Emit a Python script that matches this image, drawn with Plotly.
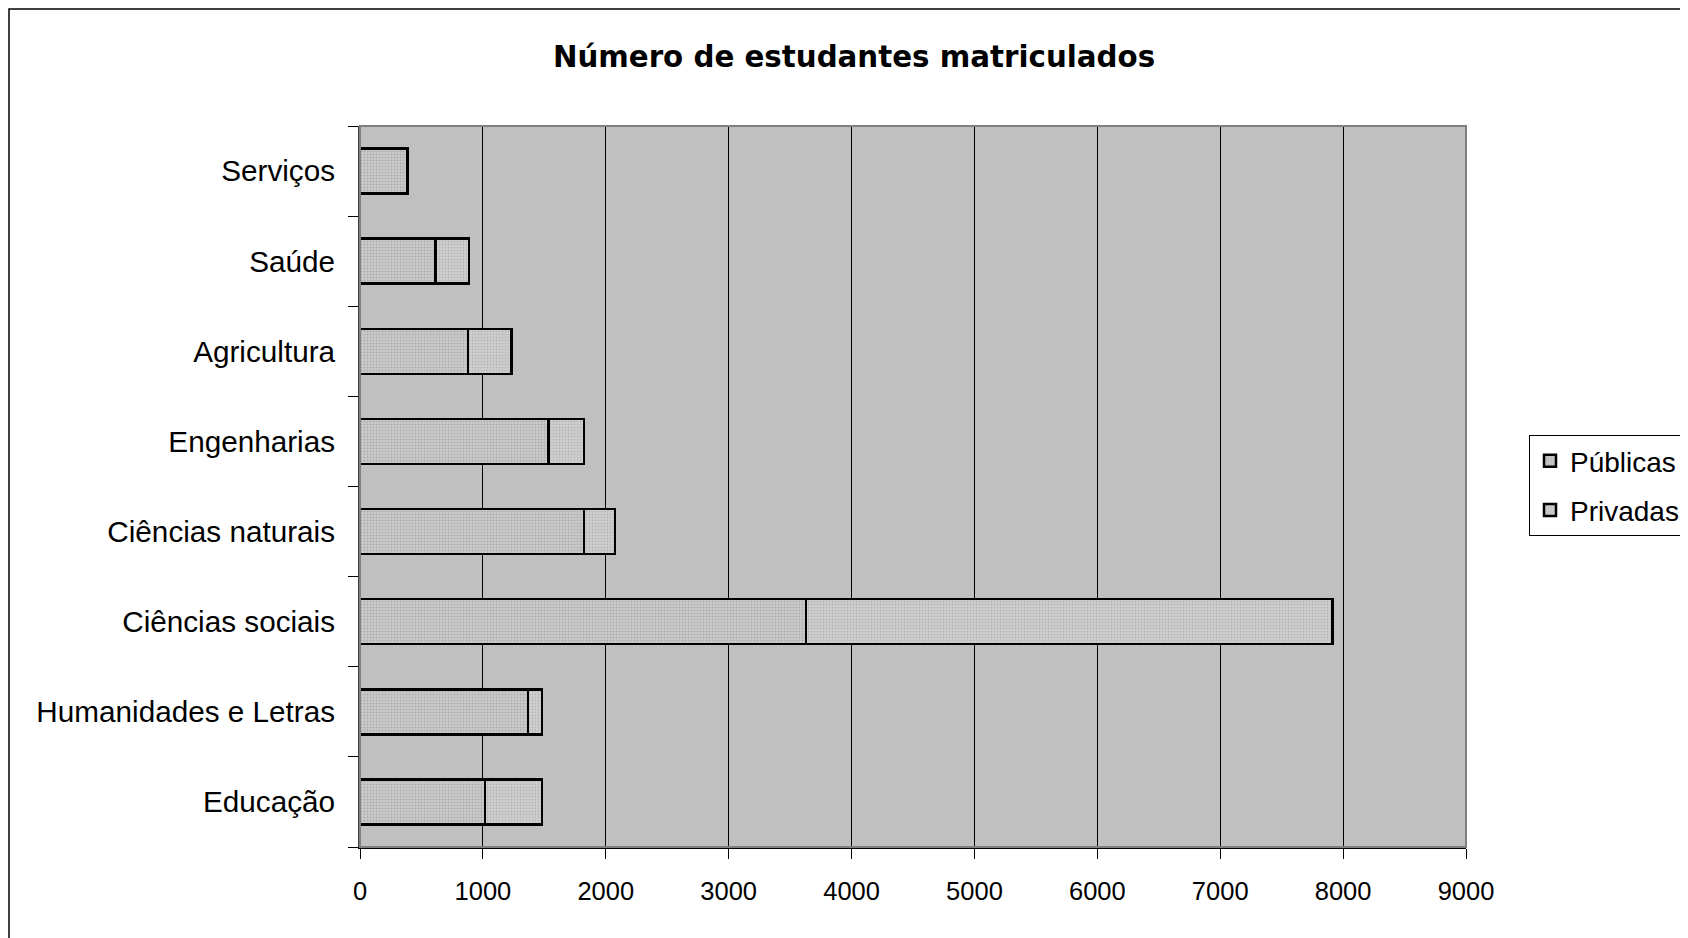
import plotly.graph_objects as go

categorias = ["Educação", "Humanidades e Letras", "Ciências sociais", "Ciências naturais",
              "Engenharias", "Agricultura", "Saúde", "Serviços"]
publicas = [1017, 1367, 3628, 1823, 1534, 880, 616, 387]
privadas = [464, 114, 4286, 254, 289, 352, 270, 0]
x_ticks = [0, 1000, 2000, 3000, 4000, 5000, 6000, 7000, 8000, 9000]

# page has an 8px body margin, so figure coordinates are reference - 8
W, H = 1680, 930
L, T = 352, 118
R = W - 1458
B = H - 839
pw, ph = W - L - R, H - T - B

font = "Liberation Sans, Arial, sans-serif"

fig = go.Figure()
fig.add_trace(go.Bar(
    y=categorias, x=publicas, name="Públicas", orientation="h", legendgroup="pub",
    marker=dict(color="#cbcbcb", line=dict(color="black", width=2.5),
                pattern=dict(shape=".", fgcolor="#8e8e8e", size=3, solidity=0.35)),
))
fig.add_trace(go.Bar(
    y=categorias, x=privadas, name="Privadas", orientation="h", legendgroup="pri",
    marker=dict(color="#d0d0d0", line=dict(color="black", width=2.5),
                pattern=dict(shape=".", fgcolor="#999999", size=3, solidity=0.3)),
))

def px2paper_x(p):
    return (p - L) / pw

def px2paper_y(p):
    return 1 - (p - T) / ph

# outer chart border
fig.add_shape(type="rect", xref="paper", yref="paper",
              x0=px2paper_x(1), x1=px2paper_x(1700), y0=px2paper_y(950), y1=px2paper_y(1),
              line=dict(color="black", width=1.5), fillcolor="rgba(0,0,0,0)", layer="below")

fig.update_layout(
    width=W, height=H,
    margin=dict(l=L, r=R, t=T, b=B, autoexpand=False),
    barmode="stack", bargap=0.5,
    paper_bgcolor="white", plot_bgcolor="#c0c0c0",
    font=dict(family=font, size=29.7, color="black"),
    title=dict(text="<b>Número de estudantes matriculados</b>", x=846 / W, xref="container",
               xanchor="center", y=1 - 49 / H, yref="container", yanchor="middle",
               font=dict(size=29.3, family="DejaVu Sans, sans-serif", color="black")),
    showlegend=True,
    legend=dict(x=px2paper_x(1521), xanchor="left", y=px2paper_y(427), yanchor="top",
                bgcolor="white", bordercolor="black", borderwidth=1,
                font=dict(size=28, family=font), traceorder="grouped",
                itemwidth=30, tracegroupgap=10),
    xaxis=dict(range=[0, 9000], tickvals=x_ticks, ticktext=[str(v) for v in x_ticks],
               showgrid=True, gridcolor="black", gridwidth=1,
               showline=True, linecolor="black", linewidth=2, mirror=False,
               ticks="outside", ticklen=10, tickcolor="black", tickwidth=1,
               ticklabelstandoff=10, zeroline=False, fixedrange=True,
               tickfont=dict(size=25.5)),
    yaxis=dict(categoryorder="array", categoryarray=categorias,
               showline=True, linecolor="#404040", linewidth=2,
               ticks="outside", ticklen=10, tickcolor="black", tickwidth=1,
               tickson="boundaries", ticklabelstandoff=17, showgrid=False, fixedrange=True),
)

# plot area frame (top & right, grey)
fig.add_shape(type="rect", xref="paper", yref="paper", x0=0, x1=1, y0=0, y1=1,
              line=dict(color="#808080", width=2), fillcolor="rgba(0,0,0,0)", layer="above")

fig.write_html("out.html")
